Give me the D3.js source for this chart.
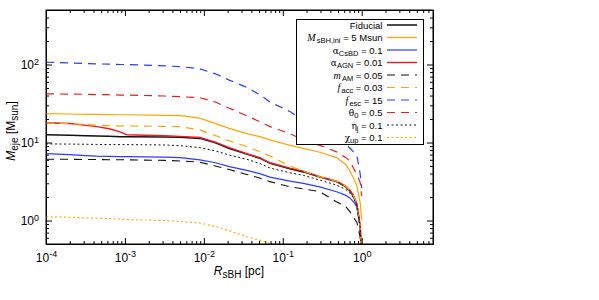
<!DOCTYPE html>
<html>
<head>
<meta charset="utf-8">
<script src="https://cdn.jsdelivr.net/npm/d3@7"></script>
<style>
  body { margin: 0; background: #fff; }
  svg { font-family: "Liberation Sans", Arial, sans-serif; }
  .axis path { stroke: #000; }
  .axis line { stroke: #000; }
  .axis text { font-size: 12px; fill: #000; font-family: "Liberation Sans", Arial, sans-serif; }
</style>
</head>
<body>
<div id="chart"></div>
<script>
// R_sBH [pc] grid shared by all curves
const rPc = [1e-4, 2e-4, 3.2e-4, 4.4e-4, 6.3e-4, 8.7e-4, 1.05e-3, 3.2e-3, 5e-3, 8.9e-3,
  0.014, 0.021, 0.035, 0.051, 0.069, 0.123, 0.182, 0.295, 0.479, 0.631, 0.708, 0.785, 0.867, 0.955, 1.0];

// M_eje [Msun] per model
const fiducial  = [12.6, 12.4, 12.2, 12.1, 12.0, 11.9, 11.9, 11.8, 11.7, 11.3, 9.9, 8.4, 7.1, 6.3, 5.4, 4.6, 4.2, 3.6, 3.15, 2.7, 2.4, 2.05, 1.6, 0.85, 0.3];
const mIni5     = [23.4, 23.2, 23.0, 22.9, 22.8, 22.7, 22.7, 22.3, 22.1, 20.5, 17.5, 15.2, 13.0, 11.9, 10.8, 9.2, 8.4, 7.5, 6.4, 5.2, 4.3, 3.5, 2.8, 1.7, 1.0];
const alphaCsBD = [7.2, 7.0, 6.8, 6.7, 6.65, 6.6, 6.6, 6.5, 6.4, 6.0, 5.5, 4.9, 4.4, 4.0, 3.6, 3.2, 3.0, 2.7, 2.34, 2.1, 1.95, 1.74, 1.5, 0.82, 0.3];
const alphaAGN  = [17.9, 17.5, 16.6, 16.0, 15.0, 13.7, 12.6, 12.2, 12.0, 11.6, 10.1, 8.6, 7.2, 6.4, 5.5, 4.7, 4.3, 3.65, 3.2, 2.75, 2.45, 2.1, 1.62, 0.86, 0.3];
const mAM       = [6.1, 6.1, 6.05, 6.05, 6.0, 6.0, 6.0, 5.9, 5.8, 5.6, 5.0, 4.5, 3.9, 3.5, 3.15, 2.7, 2.55, 2.34, 1.74, 1.5, 1.3, 1.1, 0.95, 0.62, 0.3];
const fAcc      = [17.8, 17.5, 17.0, 16.7, 16.5, 16.3, 16.3, 16.1, 16.0, 14.5, 12.3, 10.5, 8.9, 7.6, 6.7, 5.0, 4.3, 3.65, 3.2, 2.75, 2.45, 2.1, 1.62, 0.86, 0.3];
const fEsc      = [107, 105, 103, 102, 101, 100, 100, 96, 94, 88, 76, 63, 51, 41, 33, 25, 19.4, 15.5, 11.3, 9.5, 8.5, 7.6, 6.9, 4.0, 2.6];
const theta0    = [42, 41.8, 41.5, 41.2, 41, 40.6, 40.5, 39.5, 38.7, 37.5, 33, 27.5, 22, 18.5, 16, 13, 10.8, 9.2, 7.6, 6.4, 5.8, 4.7, 3.9, 3.1, 2.06];
const etaJ      = [9.6, 9.55, 9.5, 9.45, 9.4, 9.4, 9.4, 9.3, 9.1, 8.6, 7.8, 6.9, 6.1, 5.4, 4.7, 4.1, 3.8, 3.3, 2.85, 2.5, 2.25, 1.95, 1.55, 0.84, 0.3];
const chiUp     = [1.12, 1.10, 1.08, 1.07, 1.06, 1.04, 1.03, 1.0, 0.97, 0.93, 0.84, 0.74, 0.62, 0.56, 0.51, 0.42, 0.37, null, null, null, null, null, null, null, null];

// legend labels: [text, style] pieces (i = italic, s = subscript, g = greek)
const labels = [
  [['Fiducial']],
  [['M', 'i'], ['sBH,ini', 's'], [' = 5 Msun']],
  [['α', 'g'], ['CsBD', 's'], [' = 0.1']],
  [['α', 'g'], ['AGN', 's'], [' = 0.01']],
  [['m', 'i'], ['AM', 's'], [' = 0.05']],
  [['f', 'i'], ['acc', 's'], [' = 0.03']],
  [['f', 'i'], ['esc', 's'], [' = 15']],
  [['θ', 'g'], ['0', 's'], [' = 0.5']],
  [['η', 'g'], ['j', 's'], [' = 0.1']],
  [['χ', 'g'], ['up', 's'], [' = 0.1']]
];

const series = [
  { values: fiducial,  color: '#111111', dash: null,  w: 1.5 },
  { values: mIni5,     color: '#ffa500', dash: null,  w: 1.2 },
  { values: alphaCsBD, color: '#2a3cff', dash: null,  w: 1.2 },
  { values: alphaAGN,  color: '#ee1c1c', dash: null,  w: 1.4 },
  { values: mAM,       color: '#111111', dash: '8,6', w: 1.1 },
  { values: fAcc,      color: '#ffa500', dash: '8,6', w: 1.2 },
  { values: fEsc,      color: '#2a3cff', dash: '8,6', w: 1.2 },
  { values: theta0,    color: '#ee1c1c', dash: '8,6', w: 1.2 },
  { values: etaJ,      color: '#111111', dash: '2,2.5', w: 1.0 },
  { values: chiUp,     color: '#ffa500', dash: '2,2.5', w: 1.1 }
];

const width = 599, height = 300;
const margin = { top: 10, right: 166, bottom: 56, left: 46 };

const x = d3.scaleLog().domain([1e-4, 8]).range([margin.left, width - margin.right]);
const y = d3.scaleLog().domain([0.5, 500]).range([height - margin.bottom, margin.top]);

const svg = d3.select('#chart').append('svg')
  .attr('width', width)
  .attr('height', height);

svg.append('clipPath').attr('id', 'plot-clip')
  .append('rect')
  .attr('x', margin.left).attr('y', margin.top)
  .attr('width', x.range()[1] - x.range()[0])
  .attr('height', y.range()[0] - y.range()[1]);

// ticks
const xMajor = [1e-4, 1e-3, 1e-2, 1e-1, 1];
const xMinor = [];
for (let e = -4; e <= 0; e++) for (let k = 2; k <= 9; k++) {
  const v = k * Math.pow(10, e);
  if (v <= 8) xMinor.push(v);
}
const yMajor = [1, 10, 100];
const yMinor = [];
for (let e = -1; e <= 2; e++) for (let k = 2; k <= 9; k++) {
  const v = k * Math.pow(10, e);
  if (v >= 0.5 && v <= 500) yMinor.push(v);
}

function powLabel(sel) {
  sel.selectAll('.tick text').each(function (d) {
    const t = d3.select(this);
    t.text('');
    t.append('tspan').text('10');
    t.append('tspan').attr('dy', '-0.45em').attr('font-size', '9px').text(Math.round(Math.log10(d)));
  });
}

const yBot = y.range()[0], yTop = y.range()[1];
const xL = x.range()[0], xR = x.range()[1];

// bottom
svg.append('g').attr('class', 'axis').attr('transform', `translate(0,${yBot})`)
  .call(d3.axisBottom(x).tickValues(xMinor).tickSize(-3).tickSizeOuter(0).tickFormat(''));
svg.append('g').attr('class', 'axis').attr('transform', `translate(0,${yBot})`)
  .call(d3.axisBottom(x).tickValues(xMajor).tickSize(-6).tickSizeOuter(0).tickPadding(9))
  .call(powLabel);
// top
svg.append('g').attr('class', 'axis').attr('transform', `translate(0,${yTop})`)
  .call(d3.axisTop(x).tickValues(xMinor).tickSize(-3).tickSizeOuter(0).tickFormat(''));
svg.append('g').attr('class', 'axis').attr('transform', `translate(0,${yTop})`)
  .call(d3.axisTop(x).tickValues(xMajor).tickSize(-6).tickSizeOuter(0).tickFormat(''));
// left
svg.append('g').attr('class', 'axis').attr('transform', `translate(${xL},0)`)
  .call(d3.axisLeft(y).tickValues(yMinor).tickSize(-3).tickSizeOuter(0).tickFormat(''));
svg.append('g').attr('class', 'axis').attr('transform', `translate(${xL},0)`)
  .call(d3.axisLeft(y).tickValues(yMajor).tickSize(-6).tickSizeOuter(0).tickPadding(7))
  .call(powLabel);
// right
svg.append('g').attr('class', 'axis').attr('transform', `translate(${xR},0)`)
  .call(d3.axisRight(y).tickValues(yMinor).tickSize(-3).tickSizeOuter(0).tickFormat(''));
svg.append('g').attr('class', 'axis').attr('transform', `translate(${xR},0)`)
  .call(d3.axisRight(y).tickValues(yMajor).tickSize(-6).tickSizeOuter(0).tickFormat(''));

// curves
const line = d3.line()
  .defined(d => d[1] != null)
  .x(d => x(d[0]))
  .y(d => y(d[1]));

const curves = svg.append('g').attr('clip-path', 'url(#plot-clip)');
series.forEach(s => {
  curves.append('path')
    .datum(rPc.map((r, i) => [r, s.values[i]]))
    .attr('fill', 'none')
    .attr('stroke', s.color)
    .attr('stroke-width', s.w)
    .attr('stroke-dasharray', s.dash)
    .attr('d', line);
});

// frame
svg.append('rect')
  .attr('x', xL).attr('y', yTop)
  .attr('width', xR - xL).attr('height', yBot - yTop)
  .attr('fill', 'none').attr('stroke', '#000').attr('stroke-width', 1);

// legend
const legend = svg.append('g');
legend.append('rect')
  .attr('x', 296.5).attr('y', 19.5).attr('width', 127).attr('height', 125)
  .attr('fill', '#fff').attr('stroke', '#000').attr('stroke-width', 1);

function addRich(textSel, parts, baseSize) {
  let prev = null;
  parts.forEach(([t, st]) => {
    const ts = textSel.append('tspan').text(t);
    if (st === 'i') ts.attr('font-style', 'italic').attr('font-family', '"Liberation Serif", serif').attr('font-size', baseSize + 0.5);
    if (st === 'g') ts.attr('font-family', '"DejaVu Serif", serif').attr('font-size', baseSize - 0.5);
    if (st === 's') {
      ts.attr('font-size', 7.5).attr('dy', 2);
      if (prev === 'i') ts.attr('dx', 1.2);
    }
    if (st === undefined && parts.length > 1) ts.attr('dy', -2);
    prev = st;
  });
}

labels.forEach((parts, i) => {
  const cy = 25 + i * 12.5;
  const s = series[i];
  const t = legend.append('text')
    .attr('x', 382.5).attr('y', cy + 3.5)
    .attr('text-anchor', 'end')
    .attr('font-size', 9.5);
  addRich(t, parts, 9.5);
  legend.append('line')
    .attr('x1', 387).attr('x2', 417).attr('y1', cy).attr('y2', cy)
    .attr('stroke', s.color).attr('stroke-width', s.w)
    .attr('stroke-dasharray', s.dash);
});

// axis titles
const xt = svg.append('text')
  .attr('x', 239).attr('y', 275)
  .attr('text-anchor', 'middle').attr('font-size', 12);
xt.append('tspan').attr('font-style', 'italic').text('R');
xt.append('tspan').attr('font-size', 10).attr('dy', 3).text('sBH');
xt.append('tspan').attr('dy', -3).text(' [pc]');

const yt = svg.append('text')
  .attr('transform', 'translate(15,131) rotate(-90)')
  .attr('text-anchor', 'middle').attr('font-size', 12);
yt.append('tspan').attr('font-style', 'italic').text('M');
yt.append('tspan').attr('font-size', 10).attr('dy', 3).text('eje');
yt.append('tspan').attr('dy', -3).text(' [M');
yt.append('tspan').attr('font-size', 10).attr('dy', 3).text('sun');
yt.append('tspan').attr('dy', -3).text(']');
</script>
</body>
</html>
